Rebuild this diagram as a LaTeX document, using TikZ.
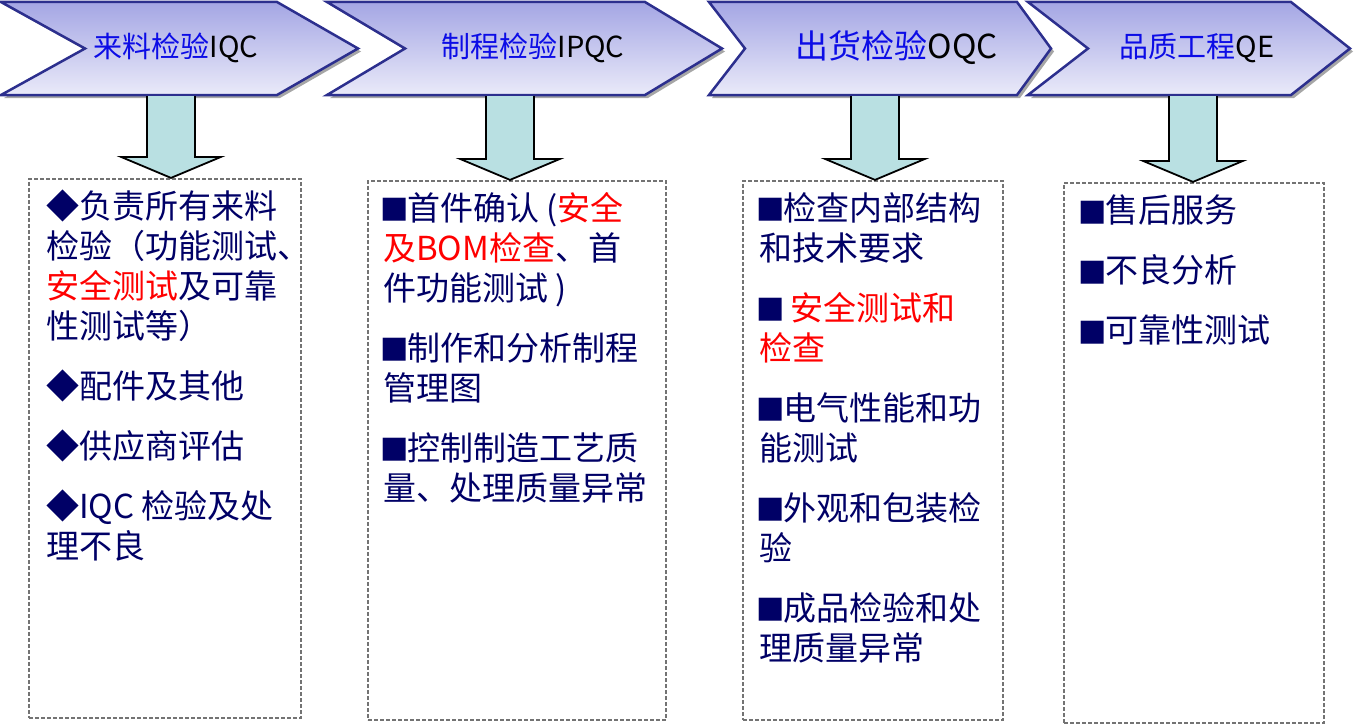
\documentclass[tikz,border=0pt]{standalone}
\usepackage{fontspec}
\setmainfont{Noto Sans CJK SC}
\newfontfamily\symfont{DejaVu Sans}
\usetikzlibrary{positioning,calc}

\definecolor{chevtop}{RGB}{164,166,228}
\definecolor{chevbottom}{RGB}{234,234,249}
\definecolor{chevline}{RGB}{44,47,142}
\definecolor{navy}{RGB}{0,0,102}
\definecolor{titleblue}{RGB}{12,12,230}
\definecolor{arrowfill}{RGB}{185,224,226}

\newcommand{\sq}{{\symfont\fontsize{30}{40}\selectfont\kern-3pt\raisebox{2.5pt}{■}\kern-1pt}}
\newcommand{\chevpath}[4]{(#1,2) -- (#3,2) -- (#4,48.5) -- (#3,95) -- (#1,95) -- (#2,48.5) -- cycle}
\newcommand{\downblock}[2]{%
  \draw[blockarrow] let \p1=(#1), \p2=(#1 |- #2.north) in
    (\x1-24pt,\y1) -- (\x1-24pt,\y2+21pt) -- (\x1-50pt,\y2+21pt) -- (\p2)
    -- (\x1+50pt,\y2+21pt) -- (\x1+24pt,\y2+21pt) -- (\x1+24pt,\y1);}

\begin{document}
\begin{tikzpicture}
      [x=1pt, y=-1pt,
       chevron/.style={draw=chevline, line width=2.5pt, top color=chevtop, bottom color=chevbottom, line join=miter},
       chevshadow/.style={fill=black!35, xshift=3pt, yshift=-3pt},
       title/.style={font=\fontsize{29}{34}\selectfont, inner sep=0pt},
       blockarrow/.style={draw=black, line width=1.8pt, fill=arrowfill, line join=miter},
       dashbox/.style={draw=black!55, line width=2.2pt, dash pattern=on 4pt off 2pt, inner sep=0pt},
       listtext/.style={font=\fontsize{33}{40}\selectfont, text=navy, align=left, inner sep=0pt}]
      \useasboundingbox (0,0) rectangle (1354,725);

      \node[dashbox, minimum width=272, minimum height=539](b1) at (165,448.5) {};
      \node[dashbox, minimum width=298, minimum height=539](b2) at (517,450.5) {};
      \node[dashbox, minimum width=260, minimum height=539](b3) at (873,450.5) {};
      \node[dashbox, minimum width=260, minimum height=540](b4) at (1194,453) {};

      \node[listtext, below right=12pt and 18pt of b1.north west](l1)
        {◆负责所有来料\\检验（功能测试、\\\textcolor{red}{安全测试}及可靠\\性测试等）\\[20pt]
         ◆配件及其他\\[20pt]◆供应商评估\\[20pt]◆IQC 检验及处\\理不良};
      \node[listtext, below right=12pt and 16pt of b2.north west](l2)
        {\sq 首件确认 (\textcolor{red}{安全}\\\textcolor{red}{及BOM检查}、首\\件功能测试 )\\[20pt]
         \sq 制作和分析制程\\管理图\\[20pt]\sq 控制制造工艺质\\量、处理质量异常};
      \node[listtext, below right=12pt and 17pt of b3.north west](l3)
        {\sq 检查内部结构\\和技术要求\\[20pt]\sq{} \textcolor{red}{安全测试和}\\\textcolor{red}{检查}\\[20pt]
         \sq 电气性能和功\\能测试\\[20pt]\sq 外观和包装检\\验\\[20pt]\sq 成品检验和处\\理质量异常};
      \node[listtext, below right=13pt and 18pt of b4.north west](l4)
        {\sq 售后服务\\[20pt]\sq 不良分析\\[20pt]\sq 可靠性测试};

      \fill[chevshadow] \chevpath{1}{85}{277}{358};
      \fill[chevshadow] \chevpath{327}{405}{645}{722};
      \fill[chevshadow] \chevpath{709}{745}{1017}{1051};
      \fill[chevshadow] \chevpath{1028}{1088}{1291}{1350};
      \draw[chevron] \chevpath{1}{85}{277}{358};
      \draw[chevron] \chevpath{327}{405}{645}{722};
      \draw[chevron] \chevpath{709}{745}{1017}{1051};
      \draw[chevron] \chevpath{1028}{1088}{1291}{1350};

      \node[title](c1) at (176,48) {\textcolor{titleblue}{来料检验}IQC};
      \node[title](c2) at (533,48) {\textcolor{titleblue}{制程检验}IPQC};
      \node[title, font=\fontsize{33}{38}\selectfont](c3) at (897,48) {\textcolor{titleblue}{出货检验}OQC};
      \node[title](c4) at (1197,48) {\textcolor{titleblue}{品质工程}QE};

      \coordinate(s1) at (171,96);
      \coordinate(s2) at (510,96);
      \coordinate(s3) at (875,96);
      \coordinate(s4) at (1193,96);
      \downblock{s1}{b1}
      \downblock{s2}{b2}
      \downblock{s3}{b3}
      \downblock{s4}{b4}
  \end{tikzpicture}
\end{document}
